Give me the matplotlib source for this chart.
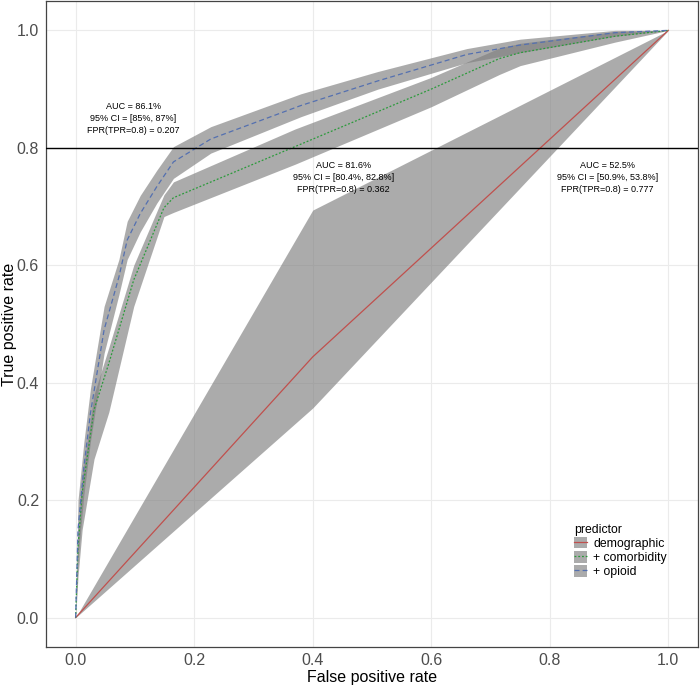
import matplotlib.pyplot as plt
from matplotlib.patches import Patch
from matplotlib.lines import Line2D

plt.rcParams['font.family'] = ['Liberation Sans', 'DejaVu Sans']

# ROC curves (fpr, tpr, lower / upper CI band)
demo_fpr = [0, 0.4, 1]
demo_tpr = [0, 0.444, 1]
demo_lo = [0, 0.357, 1]
demo_hi = [0, 0.694, 1]

comorb_fpr = [0, 0.004, 0.011, 0.031, 0.056, 0.098, 0.149, 0.165, 0.37, 0.60, 0.715, 0.75, 0.91, 1]
comorb_tpr = [0, 0.12, 0.212, 0.354, 0.433, 0.575, 0.698, 0.715, 0.802, 0.900, 0.952, 0.962, 0.99, 1]
comorb_lo = [0, 0.07, 0.15, 0.27, 0.35, 0.53, 0.683, 0.69, 0.772, 0.87, 0.925, 0.94, 0.98, 1]
comorb_hi = [0, 0.14, 0.24, 0.38, 0.46, 0.60, 0.72, 0.742, 0.832, 0.92, 0.970, 0.978, 0.998, 1]

opioid_fpr = [0, 0.004, 0.014, 0.025, 0.048, 0.073, 0.087, 0.109, 0.137, 0.165, 0.228, 0.38, 0.51, 0.66, 0.75, 0.91, 1]
opioid_tpr = [0, 0.15, 0.257, 0.348, 0.49, 0.58, 0.643, 0.688, 0.734, 0.776, 0.815, 0.872, 0.914, 0.959, 0.975, 0.996, 1]
opioid_lo = [0, 0.10, 0.21, 0.30, 0.45, 0.55, 0.61, 0.657, 0.706, 0.748, 0.791, 0.853, 0.90, 0.945, 0.962, 0.99, 1]
opioid_hi = [0, 0.20, 0.30, 0.39, 0.53, 0.61, 0.675, 0.719, 0.762, 0.802, 0.836, 0.892, 0.93, 0.969, 0.985, 1.0, 1]

labels = ['demographic', '+ comorbidity', '+ opioid']
colors = ['#C0504D', '#2A9A3A', '#5470B0']
styles = ['-', (0, (1.5, 1.5)), (0, (4, 2.5))]

notes = [
    'AUC = 86.1%\n95% CI = [85%, 87%]\nFPR(TPR=0.8) = 0.207',
    'AUC = 81.6%\n95% CI = [80.4%, 82.8%]\nFPR(TPR=0.8) = 0.362',
    'AUC = 52.5%\n95% CI = [50.9%, 53.8%]\nFPR(TPR=0.8) = 0.777',
]
note_x = [0.097, 0.452, 0.897]
note_y = [0.850, 0.750, 0.750]

fig = plt.figure(figsize=(7, 6.85), dpi=100)
ax = fig.add_axes([46 / 700, 38 / 685, 652 / 700, 646 / 685])

curves = [
    (demo_fpr, demo_tpr, demo_lo, demo_hi),
    (comorb_fpr, comorb_tpr, comorb_lo, comorb_hi),
    (opioid_fpr, opioid_tpr, opioid_lo, opioid_hi),
]
for fpr, tpr, lo, hi in curves:
    ax.fill_between(fpr, lo, hi, color='#7F7F7F', alpha=0.65, lw=0, zorder=2)
for (fpr, tpr, lo, hi), c, ls in zip(curves, colors, styles):
    ax.plot(fpr, tpr, color=c, ls=ls, lw=0.9, zorder=3)

ax.axhline(0.8, color='black', lw=1.0, zorder=4)

for txt, x, y in zip(notes, note_x, note_y):
    ax.text(x, y, txt, ha='center', va='center', fontsize=6.5, linespacing=1.45, zorder=5)

ax.set_xlim(-0.05, 1.05)
ax.set_ylim(-0.05, 1.05)
ax.set_xticks([0, 0.2, 0.4, 0.6, 0.8, 1.0])
ax.set_yticks([0, 0.2, 0.4, 0.6, 0.8, 1.0])
ax.set_xticklabels(['0.0', '0.2', '0.4', '0.6', '0.8', '1.0'])
ax.set_yticklabels(['0.0', '0.2', '0.4', '0.6', '0.8', '1.0'])
ax.tick_params(length=0, labelsize=11.5, labelcolor='#4D4D4D')
ax.tick_params(axis='x', pad=4)
ax.tick_params(axis='y', pad=5)
ax.grid(True, color='#EBEBEB', lw=0.8, zorder=0)
ax.set_axisbelow(True)
for s in ax.spines.values():
    s.set_color('#444444')
    s.set_linewidth(0.9)

ax.set_xlabel('False positive rate', fontsize=11.5, labelpad=2)
ax.set_ylabel('True positive rate', fontsize=11.5)
ax.yaxis.set_label_coords(-0.044, 0.5)

handles = []
for c, ls in zip(colors, styles):
    handles.append((Patch(facecolor='#7F7F7F', alpha=0.65, lw=0),
                    Line2D([], [], color=c, ls=ls, lw=0.9)))
leg = ax.legend(handles, labels, title='predictor', loc='upper left',
                bbox_to_anchor=(0.80, 0.20), frameon=False, fontsize=8.8,
                title_fontsize=8.8, handlelength=1.1, handleheight=1.05,
                labelspacing=0.1, handletextpad=0.5, borderpad=0,
                alignment='left')

fig.savefig('out.png', dpi=100)
